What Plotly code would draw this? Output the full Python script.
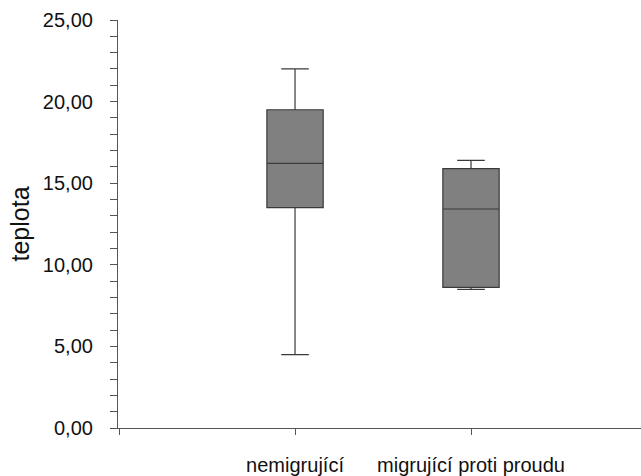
import plotly.graph_objects as go

# Temperature summary per group (box statistics)
groups = ["nemigrující", "migrující proti proudu"]
positions = [0, 1]
lower_whisker = [4.5, 8.5]
q1 = [13.5, 8.62]
median = [16.22, 13.42]
q3 = [19.5, 15.89]
upper_whisker = [22.0, 16.4]

y_ticks = [0, 5, 10, 15, 20, 25]

fig = go.Figure()
fig.add_trace(go.Box(
    x=positions,
    q1=q1,
    median=median,
    q3=q3,
    lowerfence=lower_whisker,
    upperfence=upper_whisker,
    fillcolor="#808080",
    line=dict(color="#3a3a3a", width=1.2),
    width=0.32,
    whiskerwidth=0.49,
    boxpoints=False,
    showlegend=False,
    hoverinfo="skip",
))

font = "Liberation Sans, Arial, sans-serif"

fig.update_layout(
    template="none",
    width=641,
    height=476,
    margin=dict(l=118, r=0, t=20, b=48, autoexpand=False),
    paper_bgcolor="white",
    plot_bgcolor="white",
    font=dict(family=font, color="#111111"),
    separators=",.",
)

# x-axis tick at -1 marks the left end of the axis (below the y-axis line)
x_tick_vals = [-1] + positions
x_tick_text = [""] + groups

fig.update_xaxes(
    range=[-1.006, 1.966],
    tickvals=x_tick_vals,
    ticktext=x_tick_text,
    automargin=False,
    showline=True,
    mirror=False,
    linecolor="#555555",
    linewidth=1.2,
    ticks="outside",
    ticklen=6,
    tickcolor="#555555",
    tickwidth=1.2,
    ticklabelstandoff=13,
    tickfont=dict(size=20, family=font, color="#111111"),
    showgrid=False,
    zeroline=False,
)

fig.update_yaxes(
    range=[0, 25],
    tickvals=y_ticks,
    tickformat=".2f",
    automargin=False,
    showline=True,
    mirror=False,
    linecolor="#555555",
    linewidth=1.2,
    ticks="outside",
    ticklen=7,
    tickcolor="#555555",
    tickwidth=1.2,
    minor=dict(dtick=1, ticks="outside", ticklen=7, tickcolor="#555555", tickwidth=1.2, showgrid=False),
    tickfont=dict(size=20, family=font, color="#111111"),
    ticklabelstandoff=13,
    showgrid=False,
    zeroline=False,
    title=dict(text="teplota", font=dict(size=25, family=font, color="#111111"), standoff=6),
)

fig.write_html("out.html", config={"displayModeBar": False})
